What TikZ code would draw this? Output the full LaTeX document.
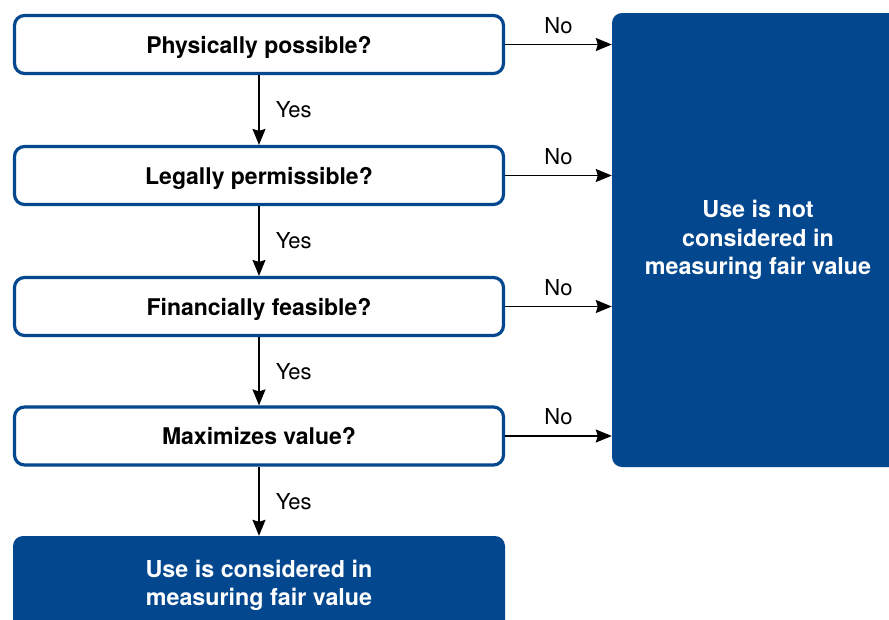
\documentclass[tikz,border=0pt]{standalone}
\usepackage{fontspec}
\setmainfont{TeX Gyre Heros}
\usetikzlibrary{arrows.meta}
\definecolor{kblue}{RGB}{3,71,143}
\tikzset{
  qbox/.style={draw=kblue, line width=3.2pt, rounded corners=10pt, fill=white,
    minimum width=489pt, minimum height=58pt, inner sep=0pt,
    text height=22pt, text depth=5pt,
    font=\fontsize{23}{26}\selectfont\bfseries},
  endbox/.style={fill=kblue, rounded corners=10pt, text=white, align=center,
    inner sep=0pt, font=\fontsize{23.3}{28.5}\selectfont\bfseries},
  conn/.style={line width=1.5pt, -{Stealth[length=16pt,width=13pt,inset=2pt]}},
  lbl/.style={font=\fontsize{22}{26}\selectfont, inner sep=0pt}
}
\begin{document}
\begin{tikzpicture}[x=1pt,y=-1pt]
\useasboundingbox (0,0) rectangle (889,619);
\clip (0,0) rectangle (889,619);
\node[qbox] (q1) at (259,44.5) {Physically possible?};
\node[qbox] (q2) at (259,175.5) {Legally permissible?};
\node[qbox] (q3) at (259,306.5) {Financially feasible?};
\node[qbox] (q4) at (259,436) {Maximizes value?};
\node[endbox, minimum width=492pt, minimum height=99pt] (yesend) at (259,585.5)
  {Use is considered in\\measuring fair value};
\node[endbox, minimum width=292pt, minimum height=454pt] (noend) at (758,240)
  {Use is not\\considered in\\measuring fair value};
\foreach \a/\b in {q1/q2,q2/q3,q3/q4,q4/yesend}{
  \draw[conn] (\a.south) -- node[lbl, right=16pt] {Yes} (\b.north);
}
\foreach \a in {q1,q2,q3,q4}{
  \draw[conn] (\a.east) -- node[lbl, above=10pt] {No} (\a.east -| noend.west);
}
\end{tikzpicture}
\end{document}
